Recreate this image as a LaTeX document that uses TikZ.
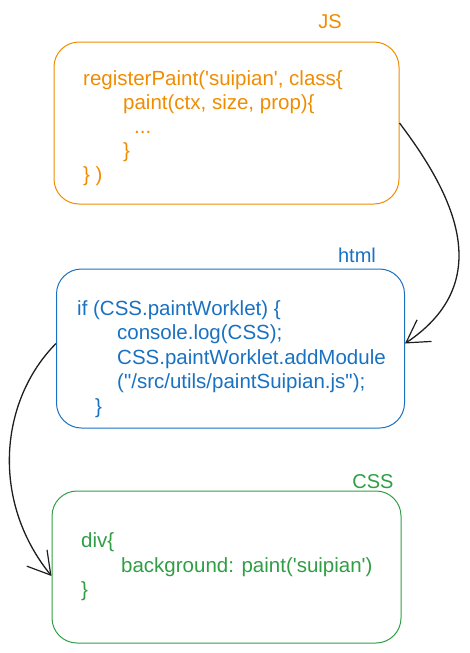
\documentclass[tikz,border=0pt]{standalone}
\usepackage{fontspec}
\usepackage{xcolor}
\usepackage{tikz}
\usetikzlibrary{arrows.meta}
\newfontfamily\sketchfont{Liberation Sans}
\definecolor{jsorange}{HTML}{F08C00}
\definecolor{htmlblue}{HTML}{1971C2}
\definecolor{cssgreen}{HTML}{2F9E44}
\definecolor{inkblack}{HTML}{1E1E1E}
\tikzset{
codebox/.style={draw, line width=1pt, rounded corners=25pt, inner sep=0pt},
codeline/.style={anchor=base west, inner sep=0pt, font=\sketchfont\fontsize{20.5}{24}\selectfont},
boxlabel/.style={anchor=base, inner sep=0pt, font=\sketchfont\fontsize{20}{24}\selectfont},
flow/.style={draw=inkblack, line width=1.3pt, -{Straight Barb[length=22pt,width=26pt,line width=1.2pt]}}
}
\begin{document}
\begin{tikzpicture}[x=1pt,y=-1pt]
\useasboundingbox (0,0) rectangle (469,653);

\node[codebox, draw=jsorange, minimum width=345, minimum height=162] (js) at (226.5,123) {};
\node[boxlabel, text=jsorange] (jslabel) at (330,28) {JS};
\node[codeline, text=jsorange] (js1) at (83,85) {registerPaint('suipian', class\{};
\node[codeline, text=jsorange] (js2) at (123,109) {paint(ctx, size, prop)\{};
\node[codeline, text=jsorange] (js3) at (134,133) {...};
\node[codeline, text=jsorange] (js4) at (123,157) {\}};
\node[codeline, text=jsorange] (js5) at (83,181) {\} )};

\node[codebox, draw=htmlblue, minimum width=348, minimum height=159] (html) at (230.5,348.5) {};
\node[boxlabel, text=htmlblue] (htmllabel) at (357,262) {html};
\node[codeline, text=htmlblue] (html1) at (77,315) {if (CSS.paintWorklet) \{};
\node[codeline, text=htmlblue] (html2) at (117,339.5) {console.log(CSS);};
\node[codeline, text=htmlblue] (html3) at (117,364) {CSS.paintWorklet.addModule};
\node[codeline, text=htmlblue] (html4) at (117,388.5) {("/src/utils/paintSuipian.js");};
\node[codeline, text=htmlblue] (html5) at (95,413) {\}};

\node[codebox, draw=cssgreen, minimum width=349, minimum height=152] (css) at (226.5,567) {};
\node[boxlabel, text=cssgreen] (csslabel) at (373,488) {CSS};
\node[codeline, text=cssgreen] (css1) at (81,547) {div\{};
\node[codeline, text=cssgreen] (css2) at (121,572) {background: paint('suipian')};
\node[codeline, text=cssgreen] (css3) at (81,596) {\}};

\draw[flow] (js.east) .. controls (450,190) and (500,280) .. ([yshift=5pt]html.east);
\draw[flow] ([yshift=5pt]html.west) .. controls (0,400) and (-10,500) .. ([yshift=-9pt]css.west);

\end{tikzpicture}
\end{document}
